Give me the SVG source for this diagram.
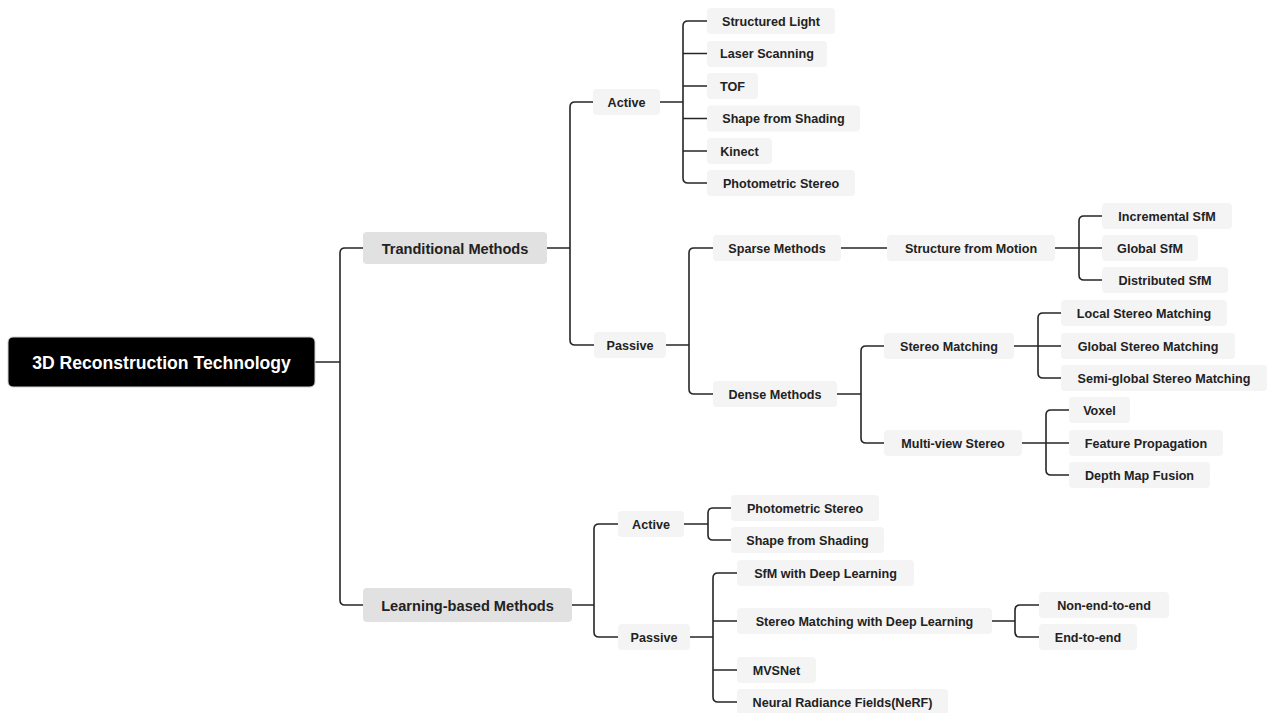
<svg xmlns="http://www.w3.org/2000/svg" width="1267" height="713" viewBox="0 0 1267 713">
<style>
.c{fill:none;stroke:#262626;stroke-width:1.6}
.l1{fill:#e1e1e1}
.lf{fill:#f4f4f4}
text{font-family:"Liberation Sans",Arial,sans-serif;font-weight:bold;fill:#222222;text-anchor:middle;dominant-baseline:central}
.t0{font-size:17.6px;fill:#ffffff}
.t1{font-size:14.6px}
.t2{font-size:12.6px}
</style>
<rect width="1267" height="713" fill="#ffffff"/>
<g id="connectors">
<path class="c" d="M315 362H340M363 248H345Q340 248 340 253V600Q340 605 345 605H363"/>
<path class="c" d="M547 248H570M594 102H575Q570 102 570 107V340Q570 345 575 345H594"/>
<path class="c" d="M660 102H683M707 21H688Q683 21 683 26V178Q683 183 688 183H707M683 53.5H707M683 86H707M683 118.5H707M683 151H707"/>
<path class="c" d="M666 345H689M713 248H694Q689 248 689 253V389Q689 394 694 394H713"/>
<path class="c" d="M841 248H887"/>
<path class="c" d="M1055 248H1102M1102 216H1084Q1079 216 1079 221V275Q1079 280 1084 280H1102"/>
<path class="c" d="M837 394H861M884 346H866Q861 346 861 351V438Q861 443 866 443H884"/>
<path class="c" d="M1014 346H1061M1061 313H1043Q1038 313 1038 318V373Q1038 378 1043 378H1061"/>
<path class="c" d="M1022 443H1069M1069 410H1051Q1046 410 1046 415V470Q1046 475 1051 475H1069"/>
<path class="c" d="M572 605H594M618 524H599Q594 524 594 529V632Q594 637 599 637H618"/>
<path class="c" d="M684 524H708M731 508H713Q708 508 708 513V535Q708 540 713 540H731"/>
<path class="c" d="M690 637H713M737 573H718Q713 573 713 578V697Q713 702 718 702H737M713 621H737M713 670H737"/>
<path class="c" d="M992 621H1015M1039 605H1020Q1015 605 1015 610V632Q1015 637 1020 637H1039"/>
</g>
<g id="root"><rect x="8" y="337" width="307" height="50" rx="5" fill="#000" stroke="#cfcfcf" stroke-width="1"/><text class="t0" x="161.5" y="362.5">3D Reconstruction Technology</text></g>
<g id="traditional"><rect class="l1" x="363" y="232" width="184" height="32" rx="4"/><text class="t1" x="455" y="248.5">Tranditional Methods</text></g>
<g id="learning"><rect class="l1" x="363" y="588" width="209" height="34" rx="4"/><text class="t1" x="467.5" y="605.5">Learning-based Methods</text></g>
<g id="t-active"><rect class="lf" x="593" y="89" width="67" height="26" rx="4"/><text class="t2" x="626.5" y="102.5">Active</text></g>
<g id="structured-light"><rect class="lf" x="707" y="8" width="128" height="26" rx="4"/><text class="t2" x="771" y="21.5">Structured Light</text></g>
<g id="laser-scanning"><rect class="lf" x="707" y="41" width="120" height="26" rx="4"/><text class="t2" x="767" y="54">Laser Scanning</text></g>
<g id="tof"><rect class="lf" x="707" y="73" width="51" height="26" rx="4"/><text class="t2" x="732.5" y="86.5">TOF</text></g>
<g id="t-sfs"><rect class="lf" x="707" y="105.5" width="153" height="26" rx="4"/><text class="t2" x="783.5" y="119">Shape from Shading</text></g>
<g id="kinect"><rect class="lf" x="707" y="138" width="65" height="26" rx="4"/><text class="t2" x="739.5" y="151.5">Kinect</text></g>
<g id="t-photometric"><rect class="lf" x="707" y="170" width="148" height="26" rx="4"/><text class="t2" x="781" y="183.5">Photometric Stereo</text></g>
<g id="t-passive"><rect class="lf" x="594" y="332" width="72" height="26" rx="4"/><text class="t2" x="630" y="345.5">Passive</text></g>
<g id="sparse"><rect class="lf" x="713" y="235" width="128" height="26" rx="4"/><text class="t2" x="777" y="248.5">Sparse Methods</text></g>
<g id="sfm"><rect class="lf" x="887" y="235" width="168" height="26" rx="4"/><text class="t2" x="971" y="248.5">Structure from Motion</text></g>
<g id="incremental-sfm"><rect class="lf" x="1102" y="203" width="130" height="26" rx="4"/><text class="t2" x="1167" y="216.5">Incremental SfM</text></g>
<g id="global-sfm"><rect class="lf" x="1102" y="235" width="96" height="26" rx="4"/><text class="t2" x="1150" y="248.5">Global SfM</text></g>
<g id="distributed-sfm"><rect class="lf" x="1102" y="267" width="126" height="26" rx="4"/><text class="t2" x="1165" y="280.5">Distributed SfM</text></g>
<g id="dense"><rect class="lf" x="713" y="381" width="124" height="26" rx="4"/><text class="t2" x="775" y="394.5">Dense Methods</text></g>
<g id="stereo-matching"><rect class="lf" x="884" y="333" width="130" height="26" rx="4"/><text class="t2" x="949" y="346.5">Stereo Matching</text></g>
<g id="local-sm"><rect class="lf" x="1061" y="300" width="166" height="26" rx="4"/><text class="t2" x="1144" y="313.5">Local Stereo Matching</text></g>
<g id="global-sm"><rect class="lf" x="1061" y="333" width="174" height="26" rx="4"/><text class="t2" x="1148" y="346.5">Global Stereo Matching</text></g>
<g id="semi-global-sm"><rect class="lf" x="1061" y="365" width="206" height="26" rx="4"/><text class="t2" x="1164" y="378.5">Semi-global Stereo Matching</text></g>
<g id="mvs"><rect class="lf" x="884" y="430" width="138" height="26" rx="4"/><text class="t2" x="953" y="443.5">Multi-view Stereo</text></g>
<g id="voxel"><rect class="lf" x="1069" y="397" width="61" height="26" rx="4"/><text class="t2" x="1099.5" y="410.5">Voxel</text></g>
<g id="feature-propagation"><rect class="lf" x="1069" y="430" width="154" height="26" rx="4"/><text class="t2" x="1146" y="443.5">Feature Propagation</text></g>
<g id="depth-map-fusion"><rect class="lf" x="1069" y="462" width="141" height="26" rx="4"/><text class="t2" x="1139.5" y="475.5">Depth Map Fusion</text></g>
<g id="l-active"><rect class="lf" x="618" y="511" width="66" height="26" rx="4"/><text class="t2" x="651" y="524.5">Active</text></g>
<g id="l-photometric"><rect class="lf" x="731" y="495" width="148" height="26" rx="4"/><text class="t2" x="805" y="508.5">Photometric Stereo</text></g>
<g id="l-sfs"><rect class="lf" x="731" y="527" width="153" height="26" rx="4"/><text class="t2" x="807.5" y="540.5">Shape from Shading</text></g>
<g id="l-passive"><rect class="lf" x="618" y="624" width="72" height="26" rx="4"/><text class="t2" x="654" y="637.5">Passive</text></g>
<g id="sfm-dl"><rect class="lf" x="737" y="560" width="177" height="26" rx="4"/><text class="t2" x="825.5" y="573.5">SfM with Deep Learning</text></g>
<g id="sm-dl"><rect class="lf" x="737" y="608" width="255" height="26" rx="4"/><text class="t2" x="864.5" y="621.5">Stereo Matching with Deep Learning</text></g>
<g id="non-end-to-end"><rect class="lf" x="1039" y="592" width="130" height="26" rx="4"/><text class="t2" x="1104" y="605.5">Non-end-to-end</text></g>
<g id="end-to-end"><rect class="lf" x="1039" y="624" width="98" height="26" rx="4"/><text class="t2" x="1088" y="637.5">End-to-end</text></g>
<g id="mvsnet"><rect class="lf" x="737" y="657" width="79" height="26" rx="4"/><text class="t2" x="776.5" y="670.5">MVSNet</text></g>
<g id="nerf"><rect class="lf" x="737" y="689" width="211" height="26" rx="4"/><text class="t2" x="842.5" y="702.5">Neural Radiance Fields(NeRF)</text></g>
</svg>
